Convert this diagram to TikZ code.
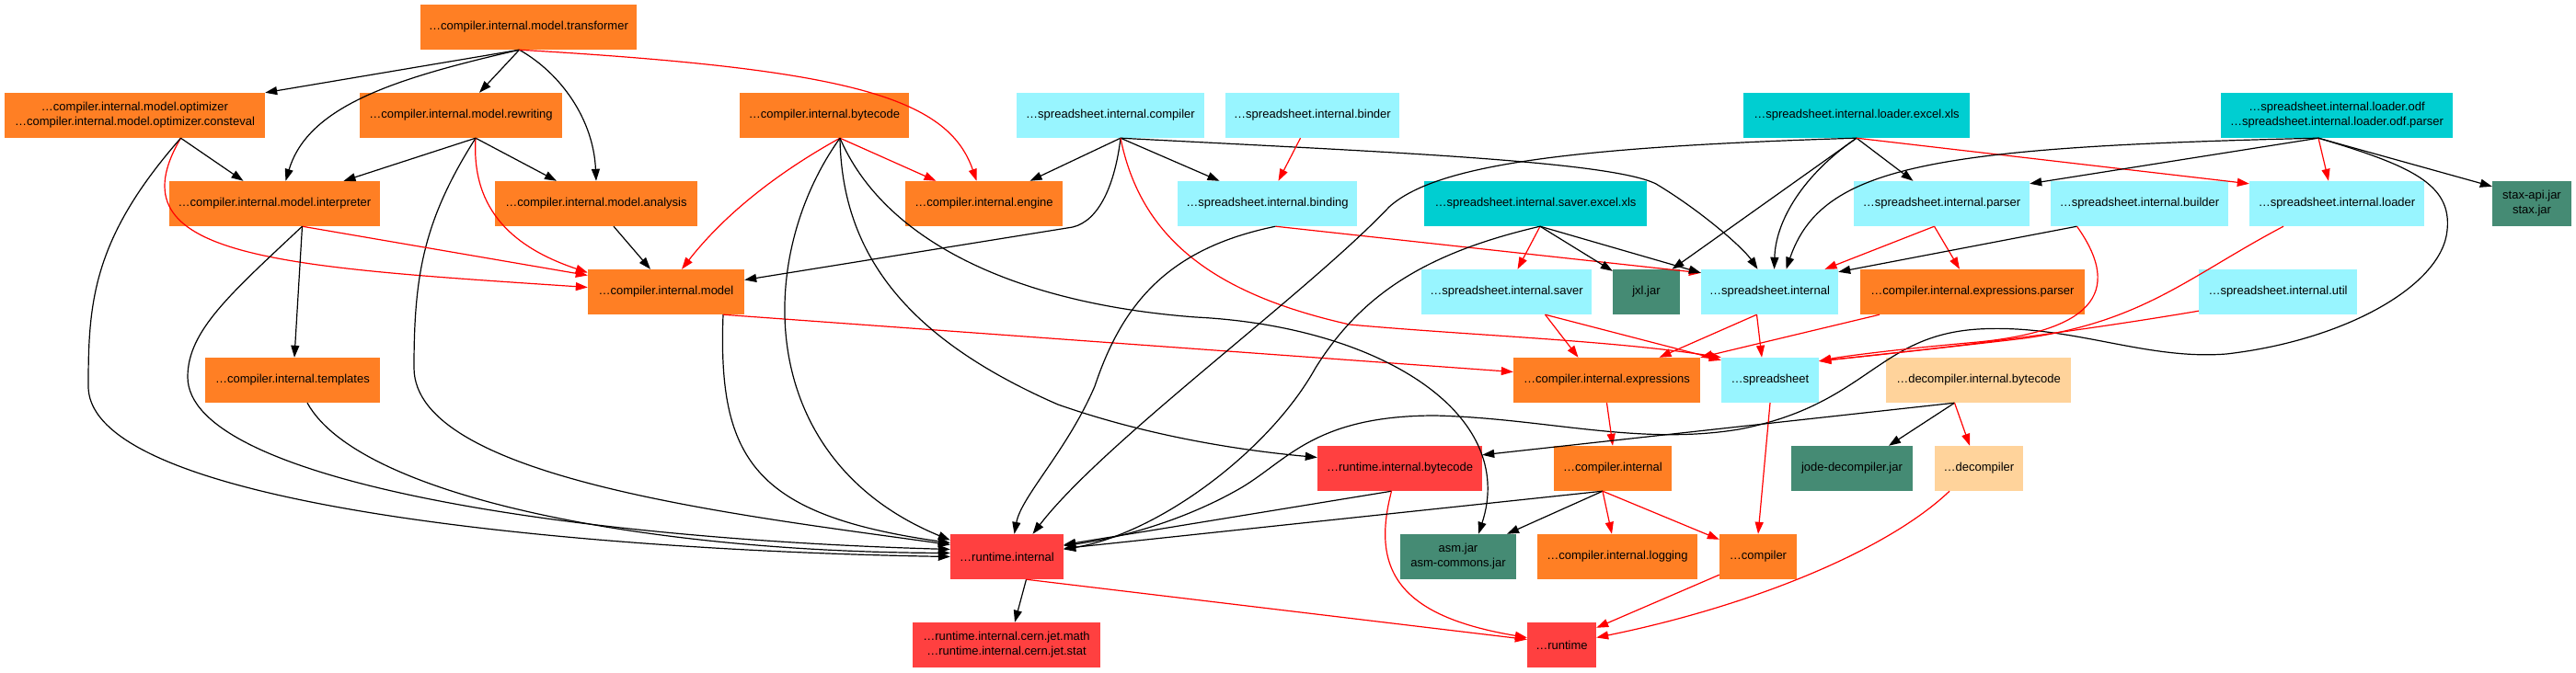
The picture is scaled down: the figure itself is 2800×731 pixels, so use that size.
\documentclass[tikz,border=0pt]{standalone}
\usepackage{fontspec}
\setmainfont{Liberation Sans}
\usetikzlibrary{arrows.meta}

\definecolor{cpkg}{HTML}{FF7F24}
\definecolor{spkg}{HTML}{98F5FF}
\definecolor{lpkg}{HTML}{00CED1}
\definecolor{jpkg}{HTML}{458B74}
\definecolor{rpkg}{HTML}{FF4040}
\definecolor{dpkg}{HTML}{FFD39B}

\begin{document}
\begin{tikzpicture}[x=1pt, y=-1pt,
    pkg/.style={rectangle, inner sep=0pt, minimum height=49pt, align=center,
      font=\fontsize{13}{16}\selectfont},
    cnode/.style={pkg, fill=cpkg},
    snode/.style={pkg, fill=spkg},
    lnode/.style={pkg, fill=lpkg},
    jnode/.style={pkg, fill=jpkg},
    rnode/.style={pkg, fill=rpkg},
    dnode/.style={pkg, fill=dpkg},
    dep/.style={->, >={Triangle[length=13pt, width=9pt]}, line width=1.2pt},
    rdep/.style={dep, red}]
  \useasboundingbox (0,0) rectangle (2800,731);

  % Packages, row by row
  \node[cnode, minimum width=235pt] (trans) at (574.5,29.5) {…compiler.internal.model.transformer};

  \node[cnode, minimum width=283pt] (optim) at (146.5,125.5) {…compiler.internal.model.optimizer\\…compiler.internal.model.optimizer.consteval};
  \node[cnode, minimum width=220pt] (rewrite) at (501,125.5) {…compiler.internal.model.rewriting};
  \node[cnode, minimum width=184pt] (cbytecode) at (896,125.5) {…compiler.internal.bytecode};
  \node[snode, minimum width=204pt] (scompiler) at (1207,125.5) {…spreadsheet.internal.compiler};
  \node[snode, minimum width=189pt] (sbinder) at (1426.5,125.5) {…spreadsheet.internal.binder};
  \node[lnode, minimum width=246pt] (loadxls) at (2018,125.5) {…spreadsheet.internal.loader.excel.xls};
  \node[lnode, minimum width=252pt] (loadodf) at (2540,125.5) {…spreadsheet.internal.loader.odf\\…spreadsheet.internal.loader.odf.parser};

  \node[cnode, minimum width=229pt] (interp) at (298.5,221.5) {…compiler.internal.model.interpreter};
  \node[cnode, minimum width=220pt] (analysis) at (648,221.5) {…compiler.internal.model.analysis};
  \node[cnode, minimum width=171pt] (engine) at (1069.5,221.5) {…compiler.internal.engine};
  \node[snode, minimum width=195pt] (sbinding) at (1377.5,221.5) {…spreadsheet.internal.binding};
  \node[lnode, minimum width=242pt] (savexls) at (1669,221.5) {…spreadsheet.internal.saver.excel.xls};
  \node[snode, minimum width=191pt] (sparser) at (2110.5,221.5) {…spreadsheet.internal.parser};
  \node[snode, minimum width=193pt] (sbuilder) at (2325.5,221.5) {…spreadsheet.internal.builder};
  \node[snode, minimum width=190pt] (sloader) at (2540,221.5) {…spreadsheet.internal.loader};
  \node[jnode, minimum width=86pt] (staxjar) at (2752,221.5) {stax-api.jar\\stax.jar};

  \node[cnode, minimum width=170pt] (model) at (724,317.5) {…compiler.internal.model};
  \node[snode, minimum width=185pt] (ssaver) at (1637.5,317.5) {…spreadsheet.internal.saver};
  \node[jnode, minimum width=73pt] (jxljar) at (1789.5,317.5) {jxl.jar};
  \node[snode, minimum width=149pt] (sinternal) at (1923.5,317.5) {…spreadsheet.internal};
  \node[cnode, minimum width=244pt] (eparser) at (2144,317.5) {…compiler.internal.expressions.parser};
  \node[snode, minimum width=172pt] (sutil) at (2476,317.5) {…spreadsheet.internal.util};

  \node[cnode, minimum width=190pt] (templates) at (318,413.5) {…compiler.internal.templates};
  \node[cnode, minimum width=203pt] (expr) at (1746.5,413.5) {…compiler.internal.expressions};
  \node[snode, minimum width=106pt] (sheet) at (1924,413.5) {…spreadsheet};
  \node[dnode, minimum width=201pt] (dbytecode) at (2150.5,413.5) {…decompiler.internal.bytecode};

  \node[rnode, minimum width=179pt] (rbytecode) at (1521.5,509.5) {…runtime.internal.bytecode};
  \node[cnode, minimum width=128pt] (cinternal) at (1753,509.5) {…compiler.internal};
  \node[jnode, minimum width=132pt] (jodejar) at (2013,509.5) {jode-decompiler.jar};
  \node[dnode, minimum width=96pt] (decomp) at (2151,509.5) {…decompiler};

  \node[rnode, minimum width=123pt] (rinternal) at (1094.5,605.5) {…runtime.internal};
  \node[jnode, minimum width=126pt] (asmjar) at (1585,605.5) {asm.jar\\asm-commons.jar};
  \node[cnode, minimum width=174pt] (logging) at (1758,605.5) {…compiler.internal.logging};
  \node[cnode, minimum width=84pt] (compiler) at (1911,605.5) {…compiler};

  \node[rnode, minimum width=204pt] (cern) at (1094,701.5) {…runtime.internal.cern.jet.math\\…runtime.internal.cern.jet.stat};
  \node[rnode, minimum width=75pt] (runtime) at (1697.5,701.5) {…runtime};

  % Dependencies of the compiler model
  \draw[dep] ([xshift=-10pt]trans.south) -- (optim.north east);
  \draw[dep] ([xshift=-10pt]trans.south) .. controls (430,85) and (335,115) .. ([xshift=12pt]interp.north);
  \draw[dep] ([xshift=-10pt]trans.south) -- ([xshift=20pt]rewrite.north);
  \draw[dep] ([xshift=-10pt]trans.south) .. controls (610,80) and (645,130) .. (analysis.north);
  \draw[rdep] ([xshift=-10pt]trans.south) .. controls (920,75) and (1030,105) .. ([xshift=-8pt]engine.north);

  \draw[dep] ([xshift=50pt]optim.south) -- ([xshift=-34pt]interp.north);
  \draw[rdep] ([xshift=50pt]optim.south) .. controls (120,280) and (300,290) .. ([yshift=5pt]model.west);
  \draw[dep] ([xshift=50pt]optim.south) .. controls (100,260) and (96,330) .. (96,420) .. controls (96,560) and (700,600) .. (rinternal.west);

  \draw[dep] ([xshift=16pt]rewrite.south) -- ([xshift=75pt]interp.north);
  \draw[dep] ([xshift=16pt]rewrite.south) -- ([xshift=-43pt]analysis.north);
  \draw[rdep] ([xshift=16pt]rewrite.south) .. controls (512,230) and (560,270) .. ([yshift=21pt]model.west);
  \draw[dep] ([xshift=16pt]rewrite.south) .. controls (460,240) and (450,300) .. (450,400) .. controls (450,520) and (800,560) .. ([yshift=13pt]rinternal.west);

  \draw[rdep] ([xshift=30pt]interp.south) -- ([yshift=18pt]model.west);
  \draw[dep] ([xshift=30pt]interp.south) -- ([xshift=2pt]templates.north);
  \draw[dep] ([xshift=30pt]interp.south) .. controls (250,320) and (204,360) .. (204,410) .. controls (204,520) and (600,585) .. ([yshift=8pt]rinternal.west);

  \draw[dep] ([xshift=19pt]analysis.south) -- ([xshift=-17pt]model.north);
  \draw[dep] ([xshift=16pt]templates.south) .. controls (390,540) and (700,600) .. ([yshift=4pt]rinternal.west);

  \draw[dep] ([xshift=62pt]model.south) .. controls (780,500) and (820,560) .. ([yshift=15pt]rinternal.west);
  \draw[rdep] ([xshift=62pt]model.south) -- ([yshift=9pt]expr.west);

  \draw[rdep] ([xshift=17pt]cbytecode.south) .. controls (850,185) and (790,230) .. ([xshift=17pt]model.north);
  \draw[rdep] ([xshift=17pt]cbytecode.south) -- ([xshift=-52pt]engine.north);
  \draw[dep] ([xshift=17pt]cbytecode.south) .. controls (820,280) and (820,500) .. ([yshift=18pt]rinternal.west);
  \draw[dep] ([xshift=17pt]cbytecode.south) .. controls (915,280) and (990,370) .. (1150,440) .. controls (1250,475) and (1350,490) .. ([yshift=12pt]rbytecode.west);
  \draw[dep] ([xshift=17pt]cbytecode.south) .. controls (960,260) and (1100,330) .. (1300,345) .. controls (1500,355) and (1650,450) .. ([xshift=22pt]asmjar.north);

  % Dependencies of the spreadsheet packages
  \draw[dep] ([xshift=11pt]scompiler.south) -- ([xshift=50pt]engine.north);
  \draw[dep] ([xshift=11pt]scompiler.south) -- ([xshift=-52pt]sbinding.north);
  \draw[dep] ([xshift=11pt]scompiler.south) .. controls (1212,200) and (1195,240) .. (1166,247) -- ([yshift=13pt]model.east);
  \draw[dep] ([xshift=11pt]scompiler.south) .. controls (1500,165) and (1750,175) .. (1800,200) .. controls (1850,230) and (1895,270) .. ([xshift=-13pt]sinternal.north);
  \draw[rdep] ([xshift=11pt]scompiler.south) .. controls (1240,260) and (1320,320) .. (1467,353) .. controls (1600,365) and (1750,370) .. (sheet.north west);

  \draw[rdep] ([xshift=-13pt]sbinder.south) -- ([xshift=12pt]sbinding.north);

  \draw[dep] ([xshift=9pt]sbinding.south) .. controls (1270,270) and (1220,330) .. (1190,420) .. controls (1160,490) and (1110,540) .. ([xshift=8pt]rinternal.north);
  \draw[rdep] ([xshift=9pt]sbinding.south) -- ([yshift=-4pt]sinternal.north west);

  \draw[dep] (loadxls.south) .. controls (1700,160) and (1560,180) .. (1510,225) .. controls (1420,320) and (1200,480) .. ([xshift=28pt]rinternal.north);
  \draw[dep] (loadxls.south) -- ([xshift=28pt]jxljar.north);
  \draw[dep] (loadxls.south) .. controls (1960,190) and (1930,240) .. ([xshift=5pt]sinternal.north);
  \draw[dep] (loadxls.south) -- ([xshift=-31pt]sparser.north);
  \draw[rdep] (loadxls.south) -- ([yshift=-3pt]sloader.north west);

  \draw[dep] ([xshift=-20pt]loadodf.south) .. controls (2100,160) and (1980,180) .. ([xshift=18pt]sinternal.north);
  \draw[dep] ([xshift=-20pt]loadodf.south) -- ([yshift=-3pt]sparser.north east);
  \draw[rdep] ([xshift=-20pt]loadodf.south) -- ([xshift=-9pt]sloader.north);
  \draw[dep] ([xshift=-20pt]loadodf.south) -- ([yshift=-6pt]staxjar.north west);
  \draw[dep] ([xshift=-20pt]loadodf.south) .. controls (2620,180) and (2665,200) .. (2660,250)
    .. controls (2655,310) and (2550,370) .. (2420,385) .. controls (2330,392) and (2250,352) .. (2150,358)
    .. controls (2040,365) and (2030,440) .. (1890,467) .. controls (1780,485) and (1680,455) .. (1560,452)
    .. controls (1430,452) and (1400,500) .. (1350,530) .. controls (1290,565) and (1220,585) .. ([yshift=12pt]rinternal.east);

  \draw[rdep] ([xshift=5pt]savexls.south) -- ([xshift=12pt]ssaver.north);
  \draw[dep] ([xshift=5pt]savexls.south) -- ([yshift=-2pt]jxljar.north west);
  \draw[dep] ([xshift=5pt]savexls.south) -- ([yshift=-4pt]sinternal.north west);
  \draw[dep] ([xshift=5pt]savexls.south) .. controls (1550,275) and (1480,320) .. (1430,400) .. controls (1380,490) and (1260,580) .. ([yshift=8pt]rinternal.east);

  \draw[rdep] ([xshift=-8pt]sparser.south) -- ([xshift=60pt]sinternal.north);
  \draw[rdep] ([xshift=-8pt]sparser.south) -- ([xshift=-14pt]eparser.north);

  \draw[dep] ([xshift=-68pt]sbuilder.south) -- ([yshift=-3pt]sinternal.north east);
  \draw[rdep] ([xshift=-68pt]sbuilder.south) .. controls (2310,320) and (2270,360) .. (2150,372) .. controls (2060,380) and (2000,388) .. ([yshift=-4pt]sheet.north east);
  \draw[rdep] ([xshift=-58pt]sloader.south) .. controls (2380,300) and (2330,350) .. (2200,368) .. controls (2100,380) and (2000,390) .. ([yshift=-4pt]sheet.north east);
  \draw[rdep] ([yshift=4pt]sutil.south west) .. controls (2250,362) and (2100,380) .. ([yshift=-4pt]sheet.north east);

  \draw[rdep] ([xshift=42pt]ssaver.south) -- ([xshift=-31pt]expr.north);
  \draw[rdep] ([xshift=42pt]ssaver.south) -- ([yshift=-3pt]sheet.north west);
  \draw[rdep] ([xshift=-14pt]sinternal.south) -- ([xshift=57pt]expr.north);
  \draw[rdep] ([xshift=-14pt]sinternal.south) -- ([xshift=-9pt]sheet.north);
  \draw[rdep] ([xshift=-101pt]eparser.south) -- (expr.north east);

  % Lower part: expressions, decompiler, runtime
  \draw[rdep] (expr.south) -- (cinternal.north);
  \draw[rdep] (sheet.south) -- (compiler.north);

  \draw[dep] ([xshift=-26pt]dbytecode.south) -- ([yshift=-10pt]rbytecode.north east);
  \draw[dep] ([xshift=-26pt]dbytecode.south) -- ([xshift=40pt]jodejar.north);
  \draw[rdep] ([xshift=-26pt]dbytecode.south) -- ([xshift=-10pt]decomp.north);

  \draw[dep] ([xshift=-9pt]rbytecode.south) -- ([yshift=13pt]rinternal.east);
  \draw[rdep] ([xshift=-9pt]rbytecode.south) .. controls (1490,620) and (1520,670) .. ([yshift=8pt]runtime.west);

  \draw[dep] ([xshift=-11pt]cinternal.south) -- ([yshift=9pt]rinternal.east);
  \draw[dep] ([xshift=-11pt]cinternal.south) -- ([xshift=53pt]asmjar.north);
  \draw[rdep] ([xshift=-11pt]cinternal.south) -- ([xshift=-6pt]logging.north);
  \draw[rdep] ([xshift=-11pt]cinternal.south) -- ([yshift=-6pt]compiler.north west);

  \draw[rdep] ([yshift=5pt]compiler.south west) -- ([yshift=-6pt]runtime.north east);
  \draw[rdep] ([xshift=-32pt]decomp.south) .. controls (2050,600) and (1900,660) .. ([yshift=8pt]runtime.east);
  \draw[dep] ([xshift=21pt]rinternal.south) -- ([xshift=9pt]cern.north);
  \draw[rdep] ([xshift=21pt]rinternal.south) -- ([yshift=6pt]runtime.west);
\end{tikzpicture}
\end{document}
